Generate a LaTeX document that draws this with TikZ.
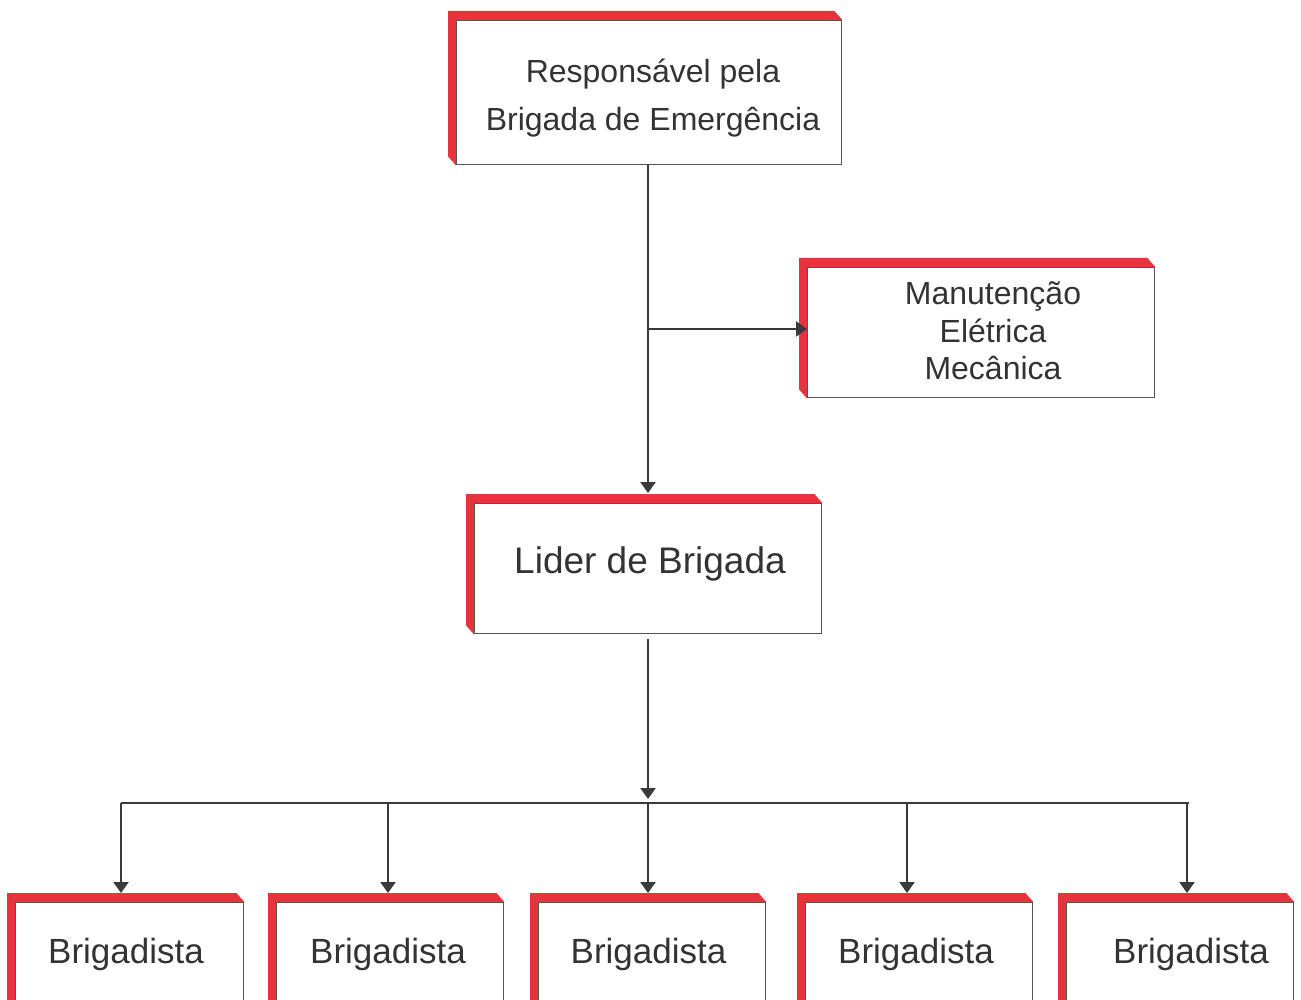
\documentclass[tikz,border=0pt]{standalone}
\usepackage{fontspec}
\setmainfont{Liberation Sans}
\usetikzlibrary{arrows.meta}
\definecolor{edgered}{HTML}{E8323C}
\definecolor{framegray}{HTML}{555555}
\definecolor{inkgray}{HTML}{333333}
\definecolor{wiregray}{HTML}{3A3A3A}
\pgfdeclarelayer{background}
\pgfsetlayers{background,main}
% centred lines whose first baseline is the node's base
\newcommand\stackedlines[1]{\begin{tabular}[t]{@{}c@{}}#1\end{tabular}}
% red bevel along the top and left sides of a panel
\newcommand\raisededge[1]{%
  \fill[edgered] (#1.south west) -- ++(-8,-9)
    |- ([shift={(-8pt,9pt)}]#1.north east) -- (#1.north east)
    -- (#1.north west) -- cycle;}

\begin{document}
\begin{tikzpicture}[x=1pt,y=-1pt,
  panel/.style={draw=framegray, line width=1.4pt, fill=white, inner sep=0pt,
    anchor=north west},
  caption/.style={text=inkgray, inner sep=0pt, anchor=base},
  wire/.style={draw=wiregray, line width=2.4pt},
  arrowwire/.style={wire, -{Triangle[length=11pt,width=15pt]}},
]
\useasboundingbox (0,0) rectangle (1301,1000);
\clip (0,0) rectangle (1301,1000);

% panels
\node[panel, minimum width=385pt, minimum height=144pt] (chief) at (456,20) {};
\node[panel, minimum width=347pt, minimum height=130pt] (maint) at (807,267) {};
\node[panel, minimum width=347pt, minimum height=130pt] (leader) at (474,503) {};
\node[panel, minimum width=228pt, minimum height=120pt] (b1) at (15,902) {};
\node[panel, minimum width=227pt, minimum height=120pt] (b2) at (276,902) {};
\node[panel, minimum width=227pt, minimum height=120pt] (b3) at (538,902) {};
\node[panel, minimum width=227pt, minimum height=120pt] (b4) at (805,902) {};
\node[panel, minimum width=227pt, minimum height=120pt] (b5) at (1066,902) {};

\begin{pgfonlayer}{background}
  \raisededge{chief}
  \raisededge{maint}
  \raisededge{leader}
  \raisededge{b1}
  \raisededge{b2}
  \raisededge{b3}
  \raisededge{b4}
  \raisededge{b5}
\end{pgfonlayer}

% texts
\node[caption, font=\fontsize{32}{48}\selectfont] (chiefT) at (653,83)
  {\stackedlines{Responsável pela\\Brigada de Emergência}};
\node[caption, font=\fontsize{32}{37.5}\selectfont] (maintT) at (993,305)
  {\stackedlines{Manutenção\\Elétrica\\Mecânica}};
\node[caption, font=\fontsize{37}{44}\selectfont] (leaderT) at (650,573) {Lider de Brigada};
\node[caption, font=\fontsize{35}{42}\selectfont] (b1T) at (126,963) {Brigadista};
\node[caption, font=\fontsize{35}{42}\selectfont] (b2T) at (388,963) {Brigadista};
\node[caption, font=\fontsize{35}{42}\selectfont] (b3T) at (648.5,963) {Brigadista};
\node[caption, font=\fontsize{35}{42}\selectfont] (b4T) at (916,963) {Brigadista};
\node[caption, font=\fontsize{35}{42}\selectfont] (b5T) at (1191,963) {Brigadista};

% connectors
\coordinate (fork) at (648,329);
\coordinate (bus) at (648,803);
\coordinate (d1) at (121,803);
\coordinate (d2) at (388,803);
\coordinate (d4) at (907,803);
\coordinate (d5) at (1187,803);

\draw[arrowwire] (chief.south -| fork) -- ([yshift=10pt]fork |- leader.north);
\draw[arrowwire] (fork) -- (fork -| maint.west);
\draw[arrowwire, shorten <=5pt, shorten >=4pt] (leader.south -| bus) -- (bus);
\draw[wire] (d1) -- ([xshift=2pt]d5);
\foreach \d/\b in {d1/b1, d2/b2, bus/b3, d4/b4, d5/b5}
  \draw[arrowwire] (\d) -- ([yshift=9pt]\d |- \b.north);
\end{tikzpicture}
\end{document}
